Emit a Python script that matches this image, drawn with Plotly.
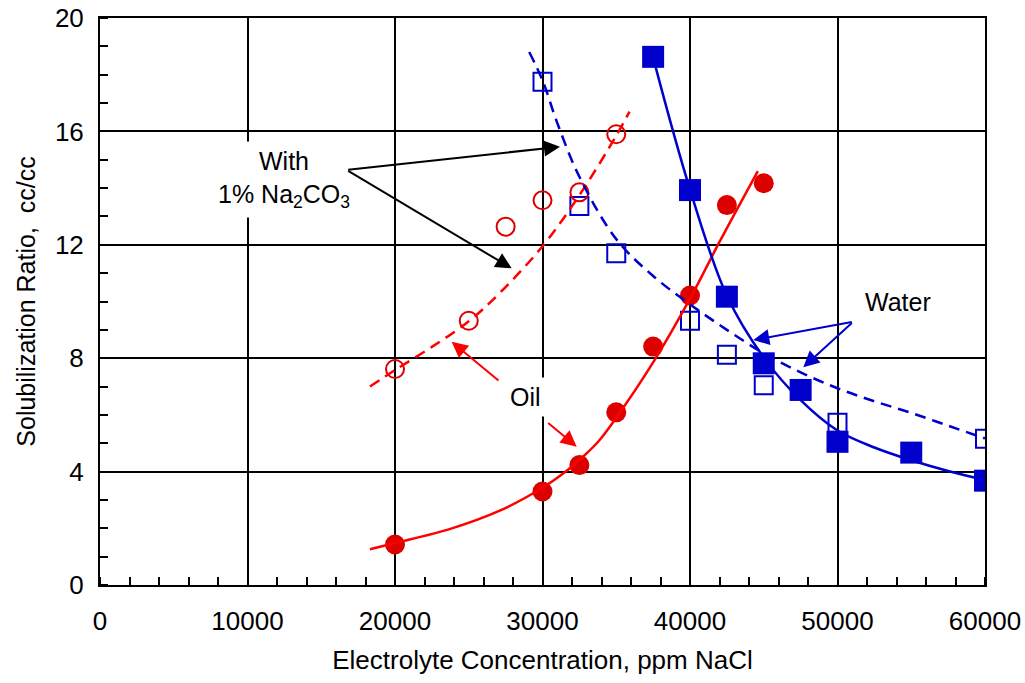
import plotly.graph_objects as go

# ---------------- data ----------------
# Oil solubilization, water (no Na2CO3) - filled red circles
x_oil_water = [20000, 30000, 32500, 35000, 37500, 40000, 42500, 45000]
y_oil_water = [1.43, 3.30, 4.23, 6.09, 8.41, 10.21, 13.40, 14.17]

# Oil solubilization, with 1% Na2CO3 - open red circles
x_oil_na = [20000, 25000, 27500, 30000, 32500, 35000]
y_oil_na = [7.62, 9.32, 12.64, 13.57, 13.85, 15.90]

# Water solubilization, water - filled blue squares
x_wat_water = [37500, 40000, 42500, 45000, 47500, 50000, 55000, 60000]
y_wat_water = [18.63, 13.93, 10.17, 7.82, 6.88, 5.05, 4.67, 3.68]

# Water solubilization, with 1% Na2CO3 - open blue squares
x_wat_na = [30000, 32500, 35000, 40000, 42500, 45000, 50000, 60000]
y_wat_na = [17.75, 13.37, 11.70, 9.32, 8.12, 7.05, 5.72, 5.16]

# Trend lines
fit_oil_water_x = [18300, 20000, 23700, 27100, 30000, 31400, 32800, 33800, 35000, 37500, 40000, 42000, 44600]
fit_oil_water_y = [1.26, 1.48, 1.97, 2.62, 3.43, 3.93, 4.55, 5.07, 5.90, 7.85, 10.10, 12.10, 14.60]

fit_oil_na_x = [18300, 20000, 22500, 25000, 27100, 30000, 32500, 35000, 35900]
fit_oil_na_y = [7.00, 7.58, 8.40, 9.30, 10.30, 11.95, 13.75, 15.85, 16.70]

fit_wat_water_x = [37500, 40000, 42500, 45000, 47500, 50000, 52500, 55000, 57500, 60000]
fit_wat_water_y = [18.60, 13.95, 10.20, 8.02, 6.52, 5.45, 4.85, 4.40, 4.02, 3.70]

fit_wat_na_x = [29100, 30000, 31000, 32500, 35000, 37500, 40000, 42500, 45000, 47500, 50000, 52500, 55000, 57500, 60000]
fit_wat_na_y = [18.80, 17.80, 16.30, 14.40, 12.20, 10.90, 9.90, 9.00, 8.17, 7.50, 6.94, 6.48, 6.07, 5.62, 5.17]

x_ticks = [0, 10000, 20000, 30000, 40000, 50000, 60000]
y_ticks = [0, 4, 8, 12, 16, 20]

RED_M = "#DD0000"
RED_L = "#FF0000"
BLUE = "#0000CC"
FONT = "Liberation Sans, Arial, sans-serif"
FS = 26

fig = go.Figure()

# markers
fig.add_trace(go.Scatter(x=x_oil_water, y=y_oil_water, mode="markers",
                         marker=dict(symbol="circle", size=20, color=RED_M)))
fig.add_trace(go.Scatter(x=x_wat_na, y=y_wat_na, mode="markers",
                         marker=dict(symbol="square-open", size=18, color=BLUE, line=dict(width=2, color=BLUE))))
fig.add_trace(go.Scatter(x=x_oil_na, y=y_oil_na, mode="markers",
                         marker=dict(symbol="circle-open", size=18, color=RED_M, line=dict(width=2, color=RED_M))))
fig.add_trace(go.Scatter(x=x_wat_water, y=y_wat_water, mode="markers",
                         marker=dict(symbol="square", size=22, color=BLUE)))

# trend lines
fig.add_trace(go.Scatter(x=fit_oil_water_x, y=fit_oil_water_y, mode="lines",
                         line=dict(color=RED_L, width=2.5, shape="spline", smoothing=1.0)))
fig.add_trace(go.Scatter(x=fit_oil_na_x, y=fit_oil_na_y, mode="lines",
                         line=dict(color=RED_L, width=2.5, dash="11px,7px", shape="spline", smoothing=1.0)))
fig.add_trace(go.Scatter(x=fit_wat_water_x, y=fit_wat_water_y, mode="lines",
                         line=dict(color=BLUE, width=2.5, shape="spline", smoothing=1.0)))
fig.add_trace(go.Scatter(x=fit_wat_na_x, y=fit_wat_na_y, mode="lines",
                         line=dict(color=BLUE, width=2.5, dash="11px,7px", shape="spline", smoothing=1.0)))

# annotations: text labels
labels = [
    dict(x=12475, y=14.29, text="With<br>1% Na<sub>2</sub>CO<sub>3</sub>"),
    dict(x=28814, y=6.63, text="Oil"),
    dict(x=54102, y=9.98, text="Water"),
]
for lab in labels:
    fig.add_annotation(x=lab["x"], y=lab["y"], xref="x", yref="y", text=lab["text"],
                       showarrow=False, bgcolor="white", borderpad=5,
                       font=dict(family=FONT, size=25, color="black"))

# arrows: (tail_x, tail_y, head_x, head_y, color)
arrows = [
    (16725, 14.64, 31186, 15.46, "black"),
    (16725, 14.64, 27912, 11.17, "black"),
    (27119, 7.17, 23844, 8.58, RED_L),
    (30285, 5.76, 32319, 4.88, RED_L),
    (51071, 9.29, 44292, 8.64, BLUE),
    (51071, 9.29, 47681, 7.68, BLUE),
]
for tx, ty, hx, hy, col in arrows:
    fig.add_annotation(x=hx, y=hy, ax=tx, ay=ty, xref="x", yref="y", axref="x", ayref="y",
                       text="", showarrow=True, arrowhead=2, arrowsize=1.6, arrowwidth=2,
                       arrowcolor=col, standoff=0, startstandoff=0)

axis_common = dict(
    showgrid=True, gridcolor="black", gridwidth=2,
    showline=True, linecolor="black", linewidth=2, mirror=True,
    zeroline=False, ticks="", automargin=False,
    tickfont=dict(family=FONT, size=FS, color="black"),
)

fig.update_layout(
    width=1025, height=683,
    margin=dict(l=100, r=40, t=18, b=98, autoexpand=False),
    paper_bgcolor="white", plot_bgcolor="white",
    showlegend=False, hovermode=False,
    xaxis=dict(range=[0, 60000], tickvals=x_ticks, ticktext=[str(v) for v in x_ticks],
               minor=dict(dtick=2000, ticks="inside", ticklen=8, tickwidth=1.5, tickcolor="black", showgrid=False),
               ticklabelstandoff=12,
               title=dict(text="Electrolyte Concentration, ppm NaCl", standoff=16,
                          font=dict(family=FONT, size=FS, color="black")),
               **axis_common),
    yaxis=dict(range=[0, 20], tickvals=y_ticks, ticktext=[str(v) for v in y_ticks],
               minor=dict(dtick=1, ticks="inside", ticklen=8, tickwidth=1.5, tickcolor="black", showgrid=False),
               ticklabelstandoff=9,
               title=dict(text="Solubilization Ratio,  cc/cc", standoff=12,
                          font=dict(family=FONT, size=25, color="black")),
               **axis_common),
)

fig.write_html("out.html")
